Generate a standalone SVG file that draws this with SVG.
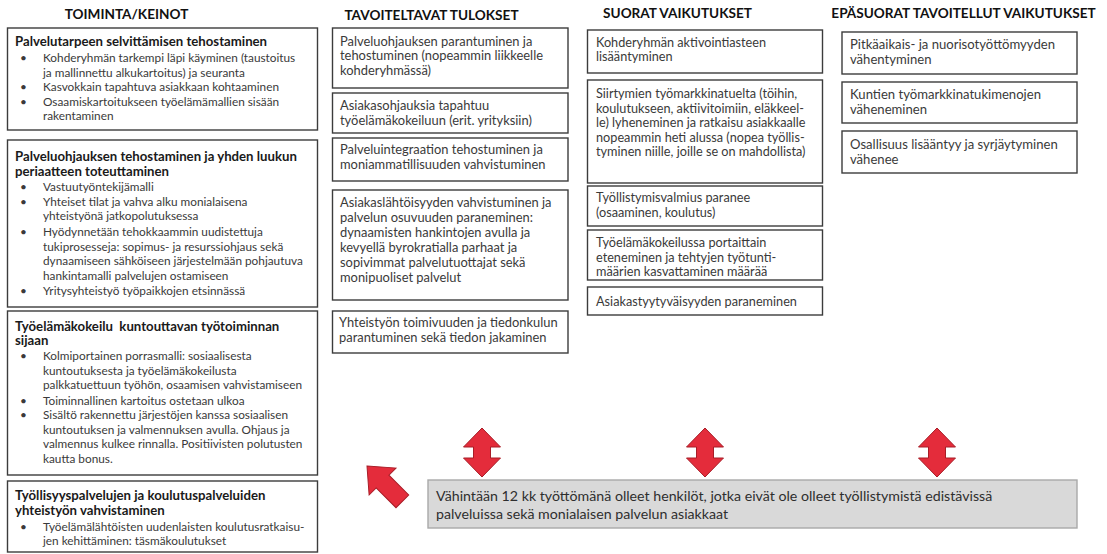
<svg xmlns="http://www.w3.org/2000/svg" width="1107" height="554" viewBox="0 0 1107 554">
  <style>
    text { font-family: Lato, "Liberation Sans", sans-serif; }
    .head { font-size: 13.6px; font-weight: bold; fill: #111; text-anchor: middle; }
    .box { fill: #fff; stroke: #3c3c3c; stroke-width: 1.4; }
    .tt { font-size: 13.2px; font-weight: bold; fill: #1a1a1a; }
    .bl { font-size: 11.8px; fill: #3a3a3a; }
    .bx { font-size: 12.9px; fill: #3a3a3a; }
    .c3 { font-size: 12.7px; }
    .c4 { font-size: 13.1px; }
    .target { fill: #d9d9d9; stroke: #a9a9a9; stroke-width: 1.4; }
    .tg { font-size: 14.2px; fill: #2e2e2e; }
    .arrow { fill: #e42c3b; stroke: #a81d27; stroke-width: 1; stroke-linejoin: miter; }
  </style>
  <defs>
    <polygon id="dbl" points="0,0 18.5,19 8.5,19 8.5,30 18.5,30 0,49 -18.5,30 -8.5,30 -8.5,19 -18.5,19"/>
  </defs>

  <rect width="1107" height="554" fill="#fff"/>

  <!-- column headings -->
  <g id="headings">
    <text class="head" x="126.5" y="19">TOIMINTA/KEINOT</text>
    <text class="head" x="431.5" y="20">TAVOITELTAVAT TULOKSET</text>
    <text class="head" x="677.5" y="18">SUORAT VAIKUTUKSET</text>
    <text class="head" x="963.5" y="18">EPÄSUORAT TAVOITELLUT VAIKUTUKSET</text>
  </g>

  <!-- actions / means -->
  <g id="keino-1">
    <rect class="box" x="7.5" y="28" width="310" height="102"/>
    <text class="tt" x="15" y="46">Palvelutarpeen selvittämisen tehostaminen</text>
    <text class="bl">
      <tspan x="20" y="62">•</tspan><tspan x="43" y="62">Kohderyhmän tarkempi läpi käyminen (taustoitus</tspan>
      <tspan x="43" y="76.5">ja mallinnettu alkukartoitus) ja seuranta</tspan>
      <tspan x="20" y="91">•</tspan><tspan x="43" y="91">Kasvokkain tapahtuva asiakkaan kohtaaminen</tspan>
      <tspan x="20" y="105.5">•</tspan><tspan x="43" y="105.5">Osaamiskartoitukseen työelämämallien sisään</tspan>
      <tspan x="43" y="120">rakentaminen</tspan>
    </text>
  </g>

  <g id="keino-2">
    <rect class="box" x="7.5" y="140" width="310" height="167"/>
    <text class="tt">
      <tspan x="15" y="161">Palveluohjauksen tehostaminen ja yhden luukun</tspan>
      <tspan x="15" y="175.5">periaatteen toteuttaminen</tspan>
    </text>
    <text class="bl">
      <tspan x="20" y="191">•</tspan><tspan x="43" y="191">Vastuutyöntekijämalli</tspan>
      <tspan x="20" y="205.5">•</tspan><tspan x="43" y="205.5">Yhteiset tilat ja vahva alku monialaisena</tspan>
      <tspan x="43" y="220">yhteistyönä jatkopolutuksessa</tspan>
      <tspan x="20" y="235.5">•</tspan><tspan x="43" y="235.5">Hyödynnetään tehokkaammin uudistettuja</tspan>
      <tspan x="43" y="250.5">tukiprosesseja: sopimus- ja resurssiohjaus sekä</tspan>
      <tspan x="43" y="265">dynaamiseen sähköiseen järjestelmään pohjautuva</tspan>
      <tspan x="43" y="279.5">hankintamalli palvelujen ostamiseen</tspan>
      <tspan x="20" y="295">•</tspan><tspan x="43" y="295">Yritysyhteistyö työpaikkojen etsinnässä</tspan>
    </text>
  </g>

  <g id="keino-3">
    <rect class="box" x="7.5" y="311" width="310" height="164"/>
    <text class="tt" xml:space="preserve"><tspan x="15" y="331">Työelämäkokeilu  kuntouttavan työtoiminnan</tspan><tspan x="15" y="345">sijaan</tspan></text>
    <text class="bl">
      <tspan x="20" y="360">•</tspan><tspan x="43" y="360">Kolmiportainen porrasmalli: sosiaalisesta</tspan>
      <tspan x="43" y="374.5">kuntoutuksesta ja työelämäkokeilusta</tspan>
      <tspan x="43" y="389">palkkatuettuun työhön, osaamisen vahvistamiseen</tspan>
      <tspan x="20" y="404.5">•</tspan><tspan x="43" y="404.5">Toiminnallinen kartoitus ostetaan ulkoa</tspan>
      <tspan x="20" y="419">•</tspan><tspan x="43" y="419">Sisältö rakennettu järjestöjen kanssa sosiaalisen</tspan>
      <tspan x="43" y="433.5">kuntoutuksen ja valmennuksen avulla. Ohjaus ja</tspan>
      <tspan x="43" y="448">valmennus kulkee rinnalla. Positiivisten polutusten</tspan>
      <tspan x="43" y="462.5">kautta bonus.</tspan>
    </text>
  </g>

  <g id="keino-4">
    <rect class="box" x="7.5" y="481" width="310" height="71"/>
    <text class="tt">
      <tspan x="15" y="500">Työllisyyspalvelujen ja koulutuspalveluiden</tspan>
      <tspan x="15" y="514.5">yhteistyön vahvistaminen</tspan>
    </text>
    <text class="bl">
      <tspan x="20" y="531">•</tspan><tspan x="43" y="531">Työelämälähtöisten uudenlaisten koulutusratkaisu-</tspan>
      <tspan x="43" y="545">jen kehittäminen: täsmäkoulutukset</tspan>
    </text>
  </g>

  <!-- expected results -->
  <g id="tulos-1">
    <rect class="box" x="332.5" y="28" width="235.5" height="60"/>
    <text class="bx">
      <tspan x="340" y="45.5">Palveluohjauksen parantuminen ja</tspan>
      <tspan x="340" y="60">tehostuminen (nopeammin liikkeelle</tspan>
      <tspan x="340" y="74.5">kohderyhmässä)</tspan>
    </text>
  </g>
  <g id="tulos-2">
    <rect class="box" x="332.5" y="93" width="235.5" height="40"/>
    <text class="bx">
      <tspan x="340" y="110">Asiakasohjauksia tapahtuu</tspan>
      <tspan x="340" y="124.5">työelämäkokeiluun (erit. yrityksiin)</tspan>
    </text>
  </g>
  <g id="tulos-3">
    <rect class="box" x="332.5" y="138" width="235.5" height="43"/>
    <text class="bx">
      <tspan x="340" y="154">Palveluintegraation tehostuminen ja</tspan>
      <tspan x="340" y="169">moniammatillisuuden vahvistuminen</tspan>
    </text>
  </g>
  <g id="tulos-4">
    <rect class="box" x="332.5" y="190" width="235.5" height="110"/>
    <text class="bx">
      <tspan x="340" y="207">Asiakaslähtöisyyden vahvistuminen ja</tspan>
      <tspan x="340" y="222">palvelun osuvuuden paraneminen:</tspan>
      <tspan x="340" y="237">dynaamisten hankintojen avulla ja</tspan>
      <tspan x="340" y="252">kevyellä byrokratialla parhaat ja</tspan>
      <tspan x="340" y="267">sopivimmat palvelutuottajat sekä</tspan>
      <tspan x="340" y="281.5">monipuoliset palvelut</tspan>
    </text>
  </g>
  <g id="tulos-5">
    <rect class="box" x="332.5" y="311" width="235.5" height="42"/>
    <text class="bx">
      <tspan x="339" y="327">Yhteistyön toimivuuden ja tiedonkulun</tspan>
      <tspan x="339" y="342">parantuminen sekä tiedon jakaminen</tspan>
    </text>
  </g>

  <!-- direct effects -->
  <g id="suora-1">
    <rect class="box" x="587.5" y="30" width="235" height="43"/>
    <text class="bx c3">
      <tspan x="596" y="47">Kohderyhmän aktivointiasteen</tspan>
      <tspan x="596" y="61">lisääntyminen</tspan>
    </text>
  </g>
  <g id="suora-2">
    <rect class="box" x="587.5" y="80" width="235" height="103"/>
    <text class="bx c3">
      <tspan x="596" y="98">Siirtymien työmarkkinatuelta (töihin,</tspan>
      <tspan x="596" y="112.5">koulutukseen, aktiivitoimiin, eläkkeel-</tspan>
      <tspan x="596" y="127">le) lyheneminen ja ratkaisu asiakkaalle</tspan>
      <tspan x="596" y="141.5">nopeammin heti alussa (nopea työllis-</tspan>
      <tspan x="596" y="156">tyminen niille, joille se on mahdollista)</tspan>
    </text>
  </g>
  <g id="suora-3">
    <rect class="box" x="587.5" y="186" width="235" height="40"/>
    <text class="bx c3">
      <tspan x="596" y="202">Työllistymisvalmius paranee</tspan>
      <tspan x="596" y="217">(osaaminen, koulutus)</tspan>
    </text>
  </g>
  <g id="suora-4">
    <rect class="box" x="587.5" y="230" width="235" height="50"/>
    <text class="bx c3">
      <tspan x="596" y="247">Työelämäkokeilussa portaittain</tspan>
      <tspan x="596" y="262">eteneminen ja tehtyjen työtunti-</tspan>
      <tspan x="596" y="276">määrien kasvattaminen määrää</tspan>
    </text>
  </g>
  <g id="suora-5">
    <rect class="box" x="587.5" y="287" width="235" height="28"/>
    <text class="bx c3" x="596" y="306">Asiakastyytyväisyyden paraneminen</text>
  </g>

  <!-- indirect effects -->
  <g id="epasuora-1">
    <rect class="box" x="842" y="32" width="235" height="42"/>
    <text class="bx c4">
      <tspan x="850" y="49">Pitkäaikais- ja nuorisotyöttömyyden</tspan>
      <tspan x="850" y="64">vähentyminen</tspan>
    </text>
  </g>
  <g id="epasuora-2">
    <rect class="box" x="842" y="82" width="235" height="41"/>
    <text class="bx c4">
      <tspan x="850" y="99">Kuntien työmarkkinatukimenojen</tspan>
      <tspan x="850" y="114">väheneminen</tspan>
    </text>
  </g>
  <g id="epasuora-3">
    <rect class="box" x="842" y="131" width="235" height="42"/>
    <text class="bx c4">
      <tspan x="850" y="149">Osallisuus lisääntyy ja syrjäytyminen</tspan>
      <tspan x="850" y="163.5">vähenee</tspan>
    </text>
  </g>

  <!-- target group -->
  <g id="kohderyhma">
    <rect class="target" x="428" y="480" width="649" height="48"/>
    <text class="tg">
      <tspan x="436" y="501">Vähintään 12 kk työttömänä olleet henkilöt, jotka eivät ole olleet työllistymistä edistävissä</tspan>
      <tspan x="436" y="519">palveluissa sekä monialaisen palvelun asiakkaat</tspan>
    </text>
  </g>

  <!-- connectors -->
  <g id="connectors">
    <use href="#dbl" class="arrow" x="482" y="428"/>
    <use href="#dbl" class="arrow" x="705" y="428"/>
    <use href="#dbl" class="arrow" x="937" y="428"/>
    <polygon class="arrow" transform="translate(367,466) rotate(45)" points="0,0 22,-19 22,-9 50,-9 50,9 22,9 22,19"/>
  </g>
</svg>
